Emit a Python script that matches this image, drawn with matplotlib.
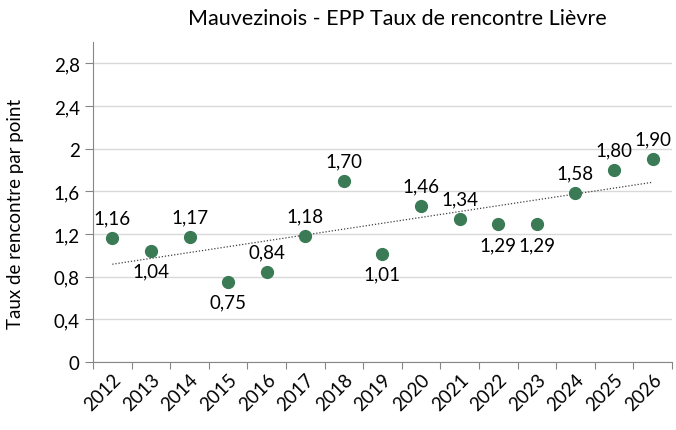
import numpy as np
import matplotlib.pyplot as plt
from matplotlib.ticker import FuncFormatter

years = ["2012", "2013", "2014", "2015", "2016", "2017", "2018", "2019",
         "2020", "2021", "2022", "2023", "2024", "2025", "2026"]
taux = [1.16, 1.04, 1.17, 0.75, 0.84, 1.18, 1.70, 1.01,
        1.46, 1.34, 1.29, 1.29, 1.58, 1.80, 1.90]
# label above (1) or below (-1) the point
label_side = [1, -1, 1, -1, 1, 1, 1, -1, 1, 1, -1, -1, 1, 1, 1]
y_ticks = [0, 0.4, 0.8, 1.2, 1.6, 2.0, 2.4, 2.8]

plt.rcParams['font.family'] = ['Lato', 'DejaVu Sans']

fig = plt.figure(figsize=(6.76, 4.31), dpi=100)
ax = fig.add_axes([0.1376, 0.158, 0.8564, 0.742])

x = np.arange(len(years))
ax.set_xlim(-0.5, len(years) - 0.5)
ax.set_ylim(0, 3.0)

ax.set_yticks(y_ticks)
ax.yaxis.set_major_formatter(FuncFormatter(lambda v, p: f"{v:g}".replace(".", ",")))
ax.grid(axis="y", color="#d9d9d9", linewidth=1)
ax.set_axisbelow(True)

# trend line
coef = np.polyfit(x, taux, 1)
ax.plot(x, np.polyval(coef, x), linestyle=(0, (1, 1.5)), color="#404040", linewidth=0.9, zorder=2)

ax.plot(x, taux, "o", color="#3a7b55", markersize=8.5, zorder=3)

for xi, v, s in zip(x, taux, label_side):
    ax.annotate(f"{v:.2f}".replace(".", ","), (xi, v), xytext=(0, 14.5 * s),
                textcoords="offset points", ha="center", va="center", fontsize=13.5)

# category axis with ticks between categories
ax.set_xticks(np.arange(-0.5, len(years), 1.0))
ax.set_xticklabels([])
ax.set_xticks(x, minor=True)
ax.set_xticklabels(years, minor=True, rotation=45, ha="right", rotation_mode="anchor", fontsize=13.5)
ax.tick_params(axis="x", which="minor", length=0, pad=6)
ax.tick_params(axis="x", which="major", length=5, color="#868686")
ax.tick_params(axis="y", length=6, color="#868686", labelsize=13.5)

for side in ["top", "right"]:
    ax.spines[side].set_visible(False)
for side in ["left", "bottom"]:
    ax.spines[side].set_color("#868686")

ax.set_ylabel("Taux de rencontre par point", fontsize=13.5)
ax.yaxis.set_label_coords(-0.12, 0.466)
fig.text(0.588, 0.955, "Mauvezinois - EPP Taux de rencontre Lièvre", ha="center", va="center", fontsize=15.5)

fig.savefig("out.png", dpi=100)
